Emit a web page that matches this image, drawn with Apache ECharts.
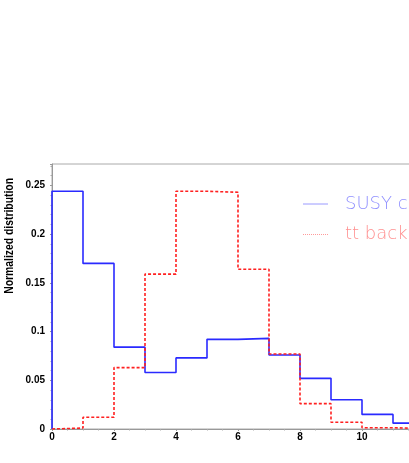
<!DOCTYPE html>
<html>
<head>
<meta charset="utf-8">
<script src="https://cdn.jsdelivr.net/npm/echarts@6/dist/echarts.min.js"></script>
<style>html,body{margin:0;padding:0;background:#fff;}#c{width:409px;height:463px;}</style>
</head>
<body>
<div id="c"></div>
<script>
// bin lower edges (bins of width 1)
const binEdges = [0, 1, 2, 3, 4, 5, 6, 7, 8, 9, 10, 11, 12];
const susyValues = [0.244, 0.170, 0.084, 0.058, 0.073, 0.092, 0.093, 0.076, 0.052, 0.030, 0.015, 0.006];
const ttValues = [0.001, 0.012, 0.063, 0.159, 0.244, 0.243, 0.164, 0.077, 0.026, 0.007, 0.0013, 0.0004];
const seriesNames = ['SUSY cascade', 'tt background'];
const yTicks = [0, 0.05, 0.1, 0.15, 0.2, 0.25];
const xTicks = [0, 2, 4, 6, 8, 10, 12, 14];

function stepPoints(vals) {
  const pts = [[binEdges[0], 0]];
  vals.forEach((v, i) => pts.push([binEdges[i], v]));
  pts.push([binEdges[vals.length], vals[vals.length - 1]]);
  return pts;
}

const chart = echarts.init(document.getElementById('c'), null, {renderer: 'canvas'});
chart.setOption({
  animation: false,
  backgroundColor: '#fff',
  grid: {
    left: 52, top: 164, width: 465, height: 265,
    show: true, borderColor: '#aaa', borderWidth: 1,
    containLabel: false, outerBoundsMode: 'none'
  },
  xAxis: {
    type: 'value', min: 0, max: 15, interval: 2,
    axisLine: {show: true, lineStyle: {color: '#999', width: 1}},
    axisTick: {show: true, length: 2, lineStyle: {color: '#999'}},
    minorTick: {show: true, splitNumber: 4, length: 1.5, lineStyle: {color: '#aaa'}},
    splitLine: {show: false},
    axisLabel: {
      margin: 3, color: '#000', fontSize: 10, fontWeight: 'bold', fontFamily: 'Liberation Sans',
      formatter: v => xTicks.includes(v) ? String(v) : ''
    }
  },
  yAxis: {
    type: 'value', min: 0, max: 0.272, interval: 0.05,
    axisLine: {show: true, lineStyle: {color: '#999', width: 1}},
    axisTick: {show: true, length: 2, lineStyle: {color: '#999'}},
    minorTick: {show: true, splitNumber: 5, length: 1.5, lineStyle: {color: '#aaa'}},
    splitLine: {show: false},
    axisLabel: {
      margin: 7, color: '#000', fontSize: 10, fontWeight: 'bold', fontFamily: 'Liberation Sans',
      showMaxLabel: false,
      formatter: v => {
        const t = yTicks.find(y => Math.abs(y - v) < 1e-6);
        return t === undefined ? '' : String(t);
      }
    }
  },
  legend: {show: false},
  graphic: [
    {
      type: 'text', left: 3, top: 178, rotation: Math.PI / 2, scaleX: 0.83,
      style: {text: 'Normalized distribution', font: 'bold 12.5px "Liberation Sans"', fill: '#000'}
    },
    {
      type: 'line', shape: {x1: 303, y1: 204, x2: 328, y2: 204},
      style: {stroke: '#9a9aff', lineWidth: 1}
    },
    {
      type: 'text', x: 345, y: 204,
      style: {text: seriesNames[0], font: '200 18px "DejaVu Sans"', fill: '#9090ff', verticalAlign: 'middle', align: 'left'}
    },
    {
      type: 'line', shape: {x1: 303, y1: 234.5, x2: 328, y2: 234.5},
      style: {stroke: '#ff9a9a', lineWidth: 1, lineDash: [1, 1]}
    },
    {
      type: 'text', x: 345, y: 234,
      style: {text: seriesNames[1], font: '200 18px "DejaVu Sans"', fill: '#ff9090', verticalAlign: 'middle', align: 'left'}
    }
  ],
  series: [
    {
      name: seriesNames[0], type: 'line', step: 'end', symbol: 'none',
      data: stepPoints(susyValues),
      lineStyle: {color: '#2a2aff', width: 1.6},
      itemStyle: {color: '#2a2aff'}
    },
    {
      name: seriesNames[1], type: 'line', step: 'end', symbol: 'none',
      data: stepPoints(ttValues),
      lineStyle: {color: '#ff2020', width: 1.6, type: [3, 2]},
      itemStyle: {color: '#ff2020'}
    }
  ]
});
</script>
</body>
</html>
